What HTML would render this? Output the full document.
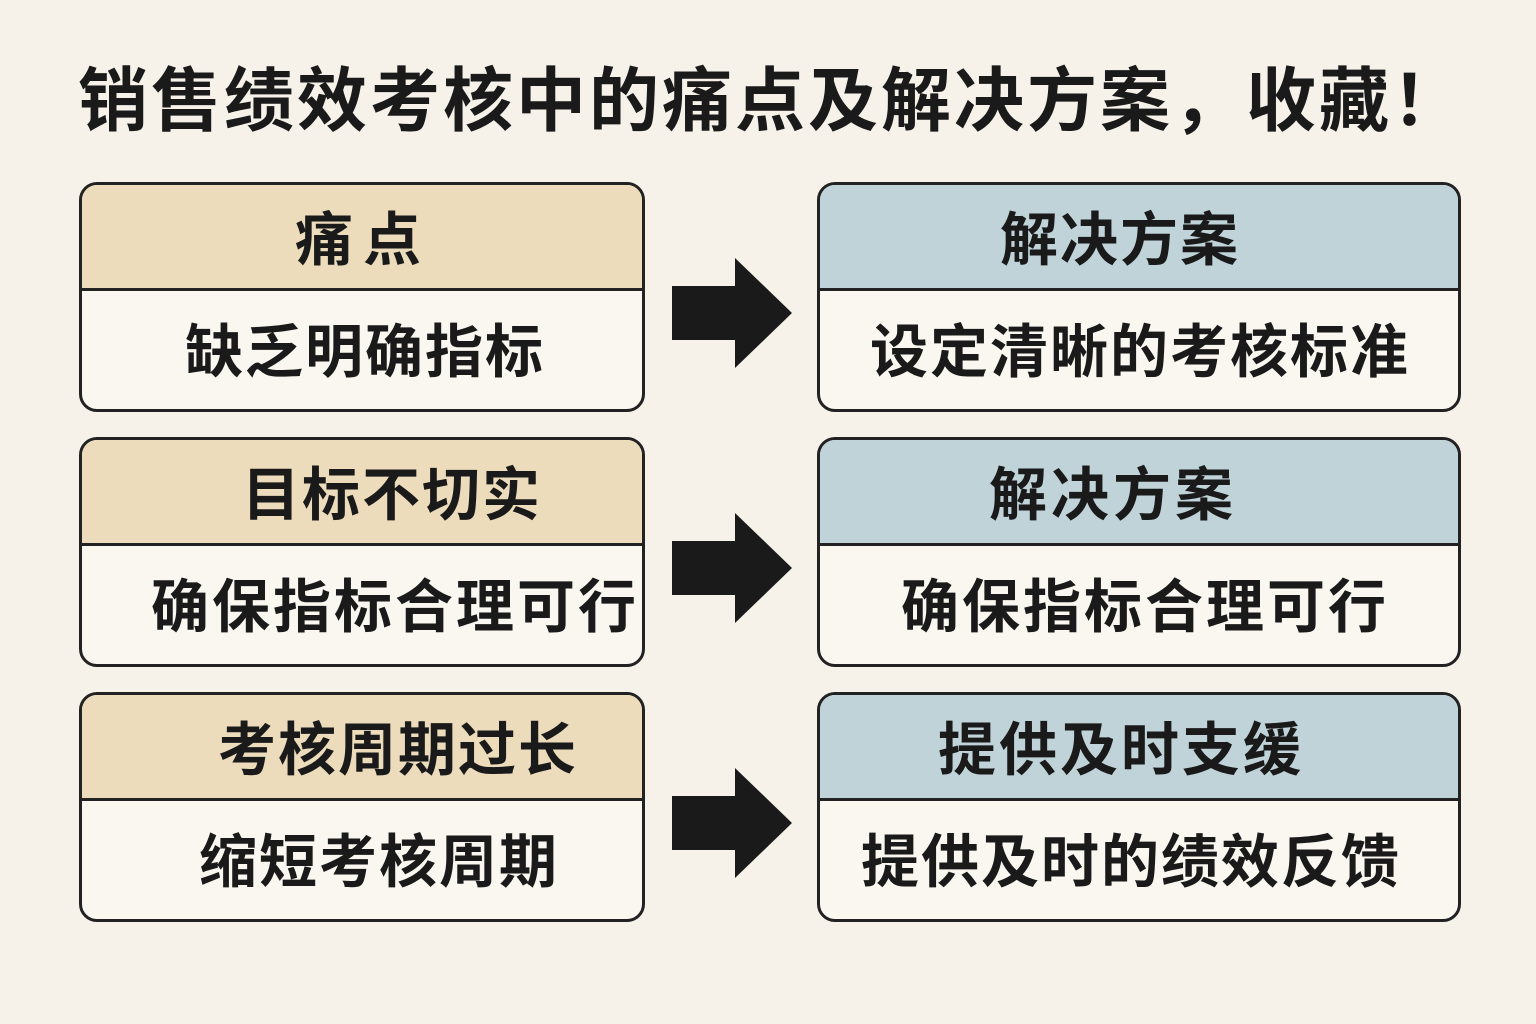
<!DOCTYPE html>
<html><head><meta charset="utf-8"><style>
body{margin:0;width:1536px;height:1024px;background:#f6f2ea;position:relative;overflow:hidden;font-family:"Liberation Sans","Noto Sans CJK SC",sans-serif;}
.t{position:absolute;font-weight:bold;color:#1a1a1a;white-space:nowrap;text-align:center;width:900px;}
.box{position:absolute;border:3px solid #222;border-radius:18px;overflow:hidden;background:#faf7f0;box-sizing:border-box;}
.hd{position:absolute;left:0;right:0;top:0;height:103px;border-bottom:3px solid #222;}
.l .hd{background:#ecdcbc}.r .hd{background:#bfd3d9}
</style></head><body>
<div class="t" style="left:0;width:1536px;text-align:left;padding-left:78px;box-sizing:border-box;top:58px;font-size:70px;line-height:86px;letter-spacing:3px">销售绩效考核中的痛点及解决方案，收藏！</div>

<div class="box l" style="left:79px;top:182px;width:566px;height:230px"><div class="hd"></div></div>
<div class="box r" style="left:817px;top:182px;width:644px;height:230px"><div class="hd"></div></div>
<div class="box l" style="left:79px;top:437px;width:566px;height:230px"><div class="hd"></div></div>
<div class="box r" style="left:817px;top:437px;width:644px;height:230px"><div class="hd"></div></div>
<div class="box l" style="left:79px;top:692px;width:566px;height:230px"><div class="hd"></div></div>
<div class="box r" style="left:817px;top:692px;width:644px;height:230px"><div class="hd"></div></div>

<svg style="position:absolute;left:0;top:0" width="1536" height="1024">
<g fill="#1a1a1a">
<polygon points="672,286 735,286 735,258 792,313 735,368 735,340 672,340"/>
<polygon points="672,541 735,541 735,513 792,568 735,623 735,595 672,595"/>
<polygon points="672,796 735,796 735,768 792,823 735,878 735,850 672,850"/>
</g></svg>

<div class="t" style="left:-87px;top:206px;font-size:58px;line-height:70px;letter-spacing:10px">痛点</div>
<div class="t" style="left:-85px;top:318px;font-size:58px;line-height:70px;letter-spacing:2px">缺乏明确指标</div>
<div class="t" style="left:670px;top:206px;font-size:58px;line-height:70px;letter-spacing:2px">解决方案</div>
<div class="t" style="left:690px;top:318px;font-size:58px;line-height:70px;letter-spacing:2px">设定清晰的考核标准</div>

<div class="t" style="left:-58px;top:461px;font-size:58px;line-height:70px;letter-spacing:2px">目标不切实</div>
<div class="t" style="left:-55px;top:573px;font-size:58px;line-height:70px;letter-spacing:3px">确保指标合理可行</div>
<div class="t" style="left:663px;top:461px;font-size:58px;line-height:70px;letter-spacing:4px">解决方案</div>
<div class="t" style="left:695px;top:573px;font-size:58px;line-height:70px;letter-spacing:3px">确保指标合理可行</div>

<div class="t" style="left:-52px;top:716px;font-size:58px;line-height:70px;letter-spacing:2px">考核周期过长</div>
<div class="t" style="left:-71px;top:828px;font-size:58px;line-height:70px;letter-spacing:2px">缩短考核周期</div>
<div class="t" style="left:671px;top:716px;font-size:58px;line-height:70px;letter-spacing:3px">提供及时支缓</div>
<div class="t" style="left:681px;top:828px;font-size:58px;line-height:70px;letter-spacing:2px">提供及时的绩效反馈</div>
</body></html>
